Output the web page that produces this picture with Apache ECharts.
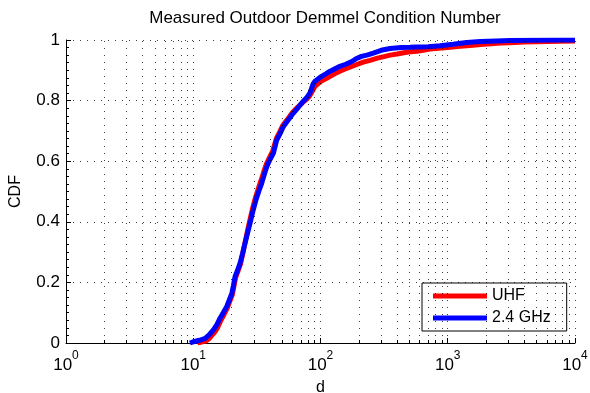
<!DOCTYPE html>
<html>
<head>
<meta charset="utf-8">
<script src="https://cdn.jsdelivr.net/npm/echarts@6/dist/echarts.min.js"></script>
<style>
  html, body { margin: 0; padding: 0; background: #fff; }
  #chart { width: 590px; height: 393px; }
</style>
</head>
<body>
<div id="chart"></div>
<script>
// Empirical CDFs of the measured Demmel condition number d, [d, CDF]
const uhf = [
  [10.8, 0], [11.6, 0.003], [12.5, 0.006], [13.3, 0.014], [14.0, 0.025], [14.8, 0.037],
  [15.5, 0.05], [16.5, 0.075], [17.5, 0.095], [18.5, 0.115], [19.4, 0.138], [20.3, 0.16],
  [20.9, 0.188], [21.5, 0.215], [22.5, 0.238], [23.5, 0.26], [24.5, 0.295], [25.5, 0.33],
  [27.0, 0.38], [28.1, 0.412], [29.3, 0.445], [30.7, 0.477], [32.3, 0.507], [34.0, 0.535],
  [35.7, 0.563], [37.5, 0.59], [39.7, 0.612], [42.0, 0.632], [45.0, 0.675], [47.6, 0.695],
  [50.5, 0.718], [55.0, 0.738], [60.0, 0.76], [66.0, 0.778], [73.0, 0.795], [78.0, 0.805],
  [82.0, 0.815], [86.0, 0.83], [90.5, 0.847], [96.0, 0.856], [102, 0.865], [110, 0.872],
  [119, 0.88], [130, 0.889], [142, 0.897], [158, 0.905], [176, 0.913], [195, 0.92],
  [217, 0.927], [245, 0.933], [280, 0.94], [315, 0.945], [352, 0.95], [400, 0.954],
  [450, 0.958], [510, 0.961], [570, 0.963], [640, 0.966], [724, 0.97], [850, 0.973],
  [1000, 0.975], [1250, 0.979], [1580, 0.983], [1900, 0.986], [2200, 0.988], [2600, 0.99],
  [3080, 0.991], [4000, 0.993], [5000, 0.994], [7500, 0.996], [10000, 0.997]
];

const ghz24 = [
  [9.4, 0], [10.0, 0.004], [11.2, 0.009], [12.4, 0.015], [13.4, 0.028], [14.4, 0.043],
  [15.3, 0.06], [16.2, 0.081], [17.2, 0.1], [18.3, 0.12], [19.2, 0.142], [20.1, 0.164],
  [20.7, 0.19], [21.3, 0.219], [22.3, 0.24], [23.3, 0.263], [24.4, 0.295], [25.5, 0.329],
  [27.1, 0.373], [28.3, 0.405], [29.6, 0.439], [31.0, 0.47], [32.7, 0.5], [34.5, 0.527],
  [36.1, 0.555], [37.8, 0.582], [40.0, 0.605], [42.6, 0.626], [45.3, 0.67], [48.0, 0.69],
  [51.0, 0.714], [55.5, 0.735], [61.0, 0.758], [67.0, 0.778], [73.3, 0.798], [78.0, 0.81],
  [82.6, 0.825], [85.0, 0.84], [87.5, 0.855], [90.5, 0.864], [96.0, 0.872], [102, 0.88],
  [110, 0.888], [119, 0.897], [130, 0.905], [142, 0.913], [158, 0.92], [176, 0.929],
  [190, 0.938], [210, 0.946], [235, 0.951], [260, 0.957], [300, 0.966], [352, 0.972],
  [430, 0.975], [505, 0.976], [570, 0.977], [700, 0.978], [869, 0.981], [1100, 0.986],
  [1410, 0.992], [1800, 0.995], [2400, 0.997], [3080, 0.998], [4500, 0.999], [7000, 1.0],
  [10000, 1.0]
];

const seriesNames = ['UHF', '2.4 GHz'];
const seriesColors = ['#ff0000', '#0000ff'];

// Log-axis decades and the 1..9 multiples used for grid lines and minor ticks
const decades = [1, 10, 100, 1000, 10000];
const multiples = [1, 2, 3, 4, 5, 6, 7, 8, 9];
const logGrid = [];
decades.slice(0, -1).forEach(function (base) {
  multiples.forEach(function (m) { logGrid.push(base * m); });
});
logGrid.push(10000);

const FONT = "'Liberation Sans', Arial, Helvetica, sans-serif";
const dotted = { type: [1, 6], color: '#000', width: 1, opacity: 0.75 };

const chart = echarts.init(document.getElementById('chart'), null, { renderer: 'canvas' });

chart.setOption({
  animation: false,
  backgroundColor: '#fff',
  textStyle: { fontFamily: FONT, color: '#000' },
  title: {
    text: 'Measured Outdoor Demmel Condition Number',
    left: 320, top: 5, textAlign: 'center',
    textStyle: { fontFamily: FONT, fontSize: 17, fontWeight: 'normal', color: '#000' }
  },
  grid: { left: 66, right: 15, top: 40, bottom: 50, containLabel: false, outerBoundsMode: 'none' },
  legend: {
    data: seriesNames,
    orient: 'vertical',
    left: 422, top: 283,
    itemWidth: 54, itemHeight: 5, itemGap: 6,
    icon: 'rect',
    padding: [5, 16, 5, 11],
    borderColor: '#000', borderWidth: 1,
    backgroundColor: '#fff',
    textStyle: { fontFamily: FONT, fontSize: 16, color: '#000' }
  },
  xAxis: [
    {
      type: 'log', logBase: 10, min: 1, max: 10000,
      name: 'd', nameLocation: 'middle', nameGap: 37,
      nameTextStyle: { fontFamily: FONT, fontSize: 16, color: '#000' },
      axisLine: { show: true, lineStyle: { color: '#000', width: 1 } },
      axisTick: { show: true, inside: true, length: 3, customValues: logGrid, lineStyle: { color: '#000' } },
      axisLabel: {
        show: true, margin: 7, customValues: decades,
        formatter: function (v) { return '{b|10}{s|' + Math.round(Math.log10(v)) + '}'; },
        rich: {
          b: { fontFamily: FONT, fontSize: 17, color: '#000', lineHeight: 24, verticalAlign: 'bottom' },
          s: { fontFamily: FONT, fontSize: 12, color: '#000', lineHeight: 24, verticalAlign: 'top' }
        }
      },
      splitLine: { show: false }
    },
    {
      type: 'log', logBase: 10, min: 1, max: 10000, position: 'bottom',
      axisLine: { show: false },
      axisTick: { show: true, inside: true, length: 5, customValues: decades, lineStyle: { color: '#000' } },
      axisLabel: { show: false },
      splitLine: { show: false }
    }
  ],
  yAxis: {
    type: 'value', min: 0, max: 1, interval: 0.2,
    name: 'CDF', nameLocation: 'middle', nameGap: 42,
    nameTextStyle: { fontFamily: FONT, fontSize: 16, color: '#000' },
    axisLine: { show: true, lineStyle: { color: '#000', width: 1 } },
    axisTick: { show: true, inside: true, length: 5, lineStyle: { color: '#000' } },
    minorTick: { show: true, splitNumber: 8, length: 3, lineStyle: { color: '#000' } },
    axisLabel: { margin: 6, fontFamily: FONT, fontSize: 17, color: '#000' },
    splitLine: { show: true, lineStyle: dotted }
  },
  series: [
    {
      // vertical dotted grid at every log multiple
      type: 'line', data: [], z: 1, silent: true,
      markLine: {
        silent: true, symbol: 'none', animation: false,
        label: { show: false },
        lineStyle: dotted,
        emphasis: { disabled: true },
        data: logGrid.filter(function (v) { return v > 1; }).map(function (v) { return { xAxis: v }; })
      }
    },
    {
      name: seriesNames[0], type: 'line', data: uhf, z: 2,
      showSymbol: false, symbol: 'none',
      color: seriesColors[0],
      lineStyle: { color: seriesColors[0], width: 5 }
    },
    {
      name: seriesNames[1], type: 'line', data: ghz24, z: 3,
      showSymbol: false, symbol: 'none',
      color: seriesColors[1],
      lineStyle: { color: seriesColors[1], width: 5 }
    }
  ]
});
</script>
</body>
</html>
